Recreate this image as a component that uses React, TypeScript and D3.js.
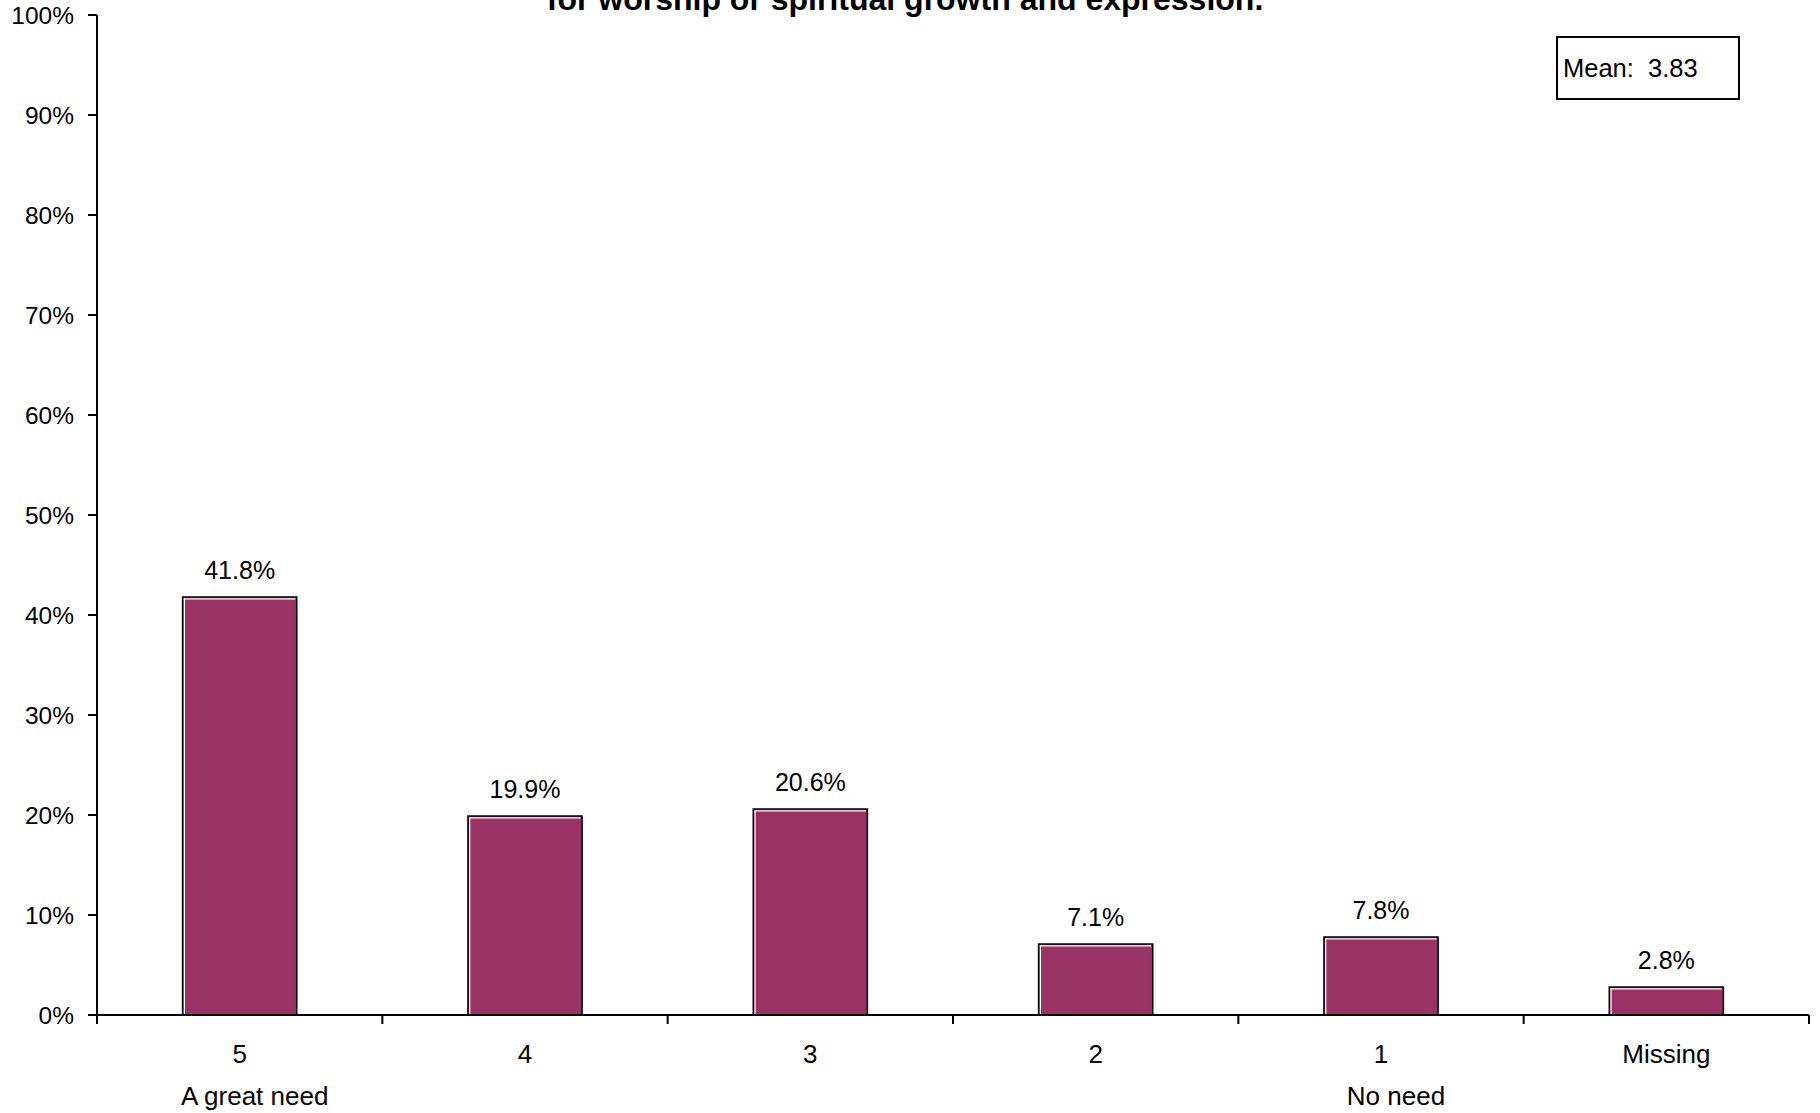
import React from "react";
import * as d3 from "d3";

const categories = ["5", "4", "3", "2", "1", "Missing"];
const subLabels = ["A great need", "", "", "", "No need", ""];
const values = [41.8, 19.9, 20.6, 7.1, 7.8, 2.8];
const yTicks = [0, 10, 20, 30, 40, 50, 60, 70, 80, 90, 100];
const titleLine = "for worship or spiritual growth and expression.";
const meanText = "Mean:  3.83";

const W = 1820;
const H = 1113;
const left = 97;
const right = 1809;
const top = 15;
const bottom = 1015;
const FONT = "'Liberation Sans', Arial, sans-serif";
const BAR = "#993366";

export default function App() {
  const x = d3.scaleBand<string>().domain(categories).range([left, right]).padding(0);
  const y = d3.scaleLinear().domain([0, 100]).range([bottom, top]);
  const step = x.step();
  const bw = step * 0.4;

  return (
    <svg
      width={W}
      height={H}
      style={{ position: "absolute", left: 0, top: 0, display: "block", background: "#fff" }}
      fontFamily={FONT}
    >
      <rect x={0} y={0} width={W} height={H} fill="#fff" />
      <text x={905} y={10} textAnchor="middle" fontSize={32} fontWeight="bold" fill="#000">
        {titleLine}
      </text>

      {/* bars */}
      {values.map((v, i) => {
        const cx = (x(categories[i]) as number) + step / 2;
        const x0 = cx - bw / 2;
        const yt = y(v);
        const h = bottom - yt;
        return (
          <g key={i}>
            <rect x={x0} y={yt} width={bw} height={h} fill={BAR} stroke="#000" strokeWidth={1.5} />
            <line x1={x0 + 1.8} x2={x0 + 1.8} y1={yt + 1.5} y2={bottom} stroke="#fff" strokeWidth={1.2} />
            <line x1={x0 + 1.2} x2={x0 + bw - 1.5} y1={yt + 1.8} y2={yt + 1.8} stroke="#fff" strokeWidth={1.2} />
            <text x={cx} y={yt - 18} textAnchor="middle" fontSize={25} fill="#000">
              {v.toFixed(1) + "%"}
            </text>
          </g>
        );
      })}

      {/* y axis */}
      <line x1={left} x2={left} y1={top} y2={bottom} stroke="#000" strokeWidth={2} />
      {yTicks.map((t) => (
        <g key={t}>
          <line x1={left - 9} x2={left} y1={y(t)} y2={y(t)} stroke="#000" strokeWidth={2} />
          <text x={74} y={y(t) + 8.5} textAnchor="end" fontSize={24.5} fill="#000">
            {t + "%"}
          </text>
        </g>
      ))}

      {/* x axis */}
      <line x1={left - 9} x2={right} y1={bottom} y2={bottom} stroke="#000" strokeWidth={2} />
      {d3.range(categories.length + 1).map((i) => {
        const xx = left + i * step;
        return <line key={i} x1={xx} x2={xx} y1={bottom} y2={bottom + 9} stroke="#000" strokeWidth={2} />;
      })}
      {categories.map((c, i) => {
        const cx = (x(c) as number) + step / 2;
        return (
          <g key={c}>
            <text x={cx} y={1063} textAnchor="middle" fontSize={26} fill="#000">
              {c}
            </text>
            {subLabels[i] && (
              <text x={cx + 15} y={1105} textAnchor="middle" fontSize={26} fill="#000">
                {subLabels[i]}
              </text>
            )}
          </g>
        );
      })}

      {/* mean box */}
      <rect x={1557} y={37} width={182} height={62} fill="#fff" stroke="#000" strokeWidth={2} />
      <text x={1563} y={76.5} fontSize={25.5} fill="#000" style={{ whiteSpace: "pre" }}>
        {meanText}
      </text>
    </svg>
  );
}
